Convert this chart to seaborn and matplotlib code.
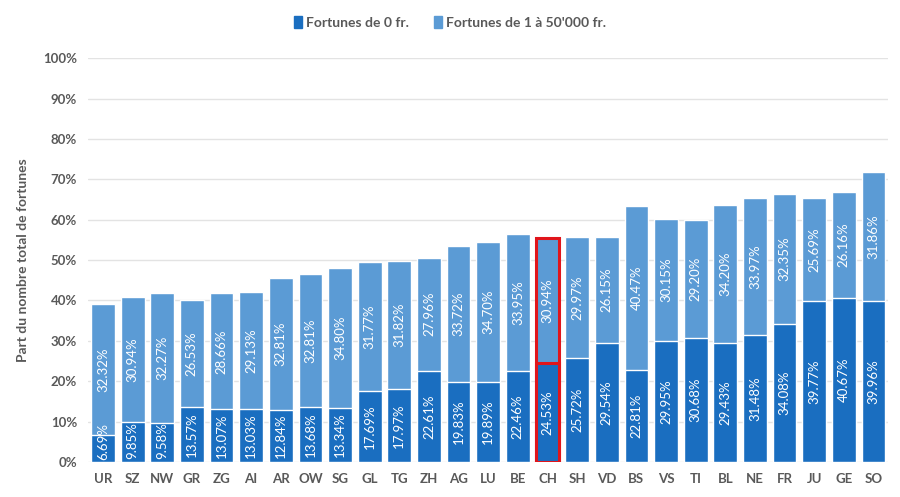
import numpy as np
import pandas as pd
import matplotlib
matplotlib.use("Agg")
import matplotlib.pyplot as plt
import seaborn as sns

cantons = ["UR", "SZ", "NW", "GR", "ZG", "AI", "AR", "OW", "SG", "GL", "TG", "ZH", "AG", "LU", "BE",
           "CH", "SH", "VD", "BS", "VS", "TI", "BL", "NE", "FR", "JU", "GE", "SO"]
fortune_zero = [6.69, 9.85, 9.58, 13.57, 13.07, 13.03, 12.84, 13.68, 13.34, 17.69, 17.97, 22.61, 19.83, 19.89, 22.46,
                24.53, 25.72, 29.54, 22.81, 29.95, 30.68, 29.43, 31.48, 34.08, 39.77, 40.67, 39.96]
fortune_small = [32.32, 30.94, 32.27, 26.53, 28.66, 29.13, 32.81, 32.81, 34.80, 31.77, 31.82, 27.96, 33.72, 34.70, 33.95,
                 30.94, 29.97, 26.15, 40.47, 30.15, 29.20, 34.20, 33.97, 32.35, 25.69, 26.16, 31.86]

dark = "#1a6ec0"
light = "#5b9bd5"
grey = "#595959"

df = pd.DataFrame({"canton": cantons, "zero": fortune_zero, "small": fortune_small})
df["total"] = df["zero"] + df["small"]

sns.set_style("white")
plt.rcParams["font.family"] = ["Lato", "DejaVu Sans"]

fig = plt.figure(figsize=(9, 4.97), dpi=100)
ax = fig.add_axes([0.098, 0.0704, 0.889, 0.8126])

sns.barplot(data=df, x="canton", y="total", color=light, saturation=1, width=0.8, ax=ax, zorder=2)
sns.barplot(data=df, x="canton", y="zero", color=dark, saturation=1, width=0.8, ax=ax, zorder=3)

# highlight CH
ch = cantons.index("CH")
n = len(cantons)
for idx in (ch, n + ch):
    p = ax.patches[idx]
    p.set_edgecolor("#e0151b")
    p.set_linewidth(2.2)
    p.set_zorder(4)

for i, row in df.iterrows():
    # labels that don't fit are pushed up so they stay inside the bar
    y0 = max(row["zero"] / 2, 5.2)
    ax.text(i, y0, f"{row['zero']:.2f}%", rotation=90, ha="center", va="center",
            color="white", fontsize=9.5, zorder=5)
    ax.text(i, row["zero"] + row["small"] / 2, f"{row['small']:.2f}%", rotation=90, ha="center",
            va="center", color="white", fontsize=9.5, zorder=5)

ax.set_xlim(-0.5, n - 0.5)
ax.set_ylim(0, 100)
ax.set_yticks(range(0, 101, 10))
ax.set_yticklabels([f"{v}%" for v in range(0, 101, 10)])
ax.yaxis.grid(True, color="#e3e3e3", linewidth=1, zorder=0)
ax.set_axisbelow(True)
for s in ax.spines.values():
    s.set_visible(False)
ax.tick_params(axis="both", length=0, labelsize=9.5, colors=grey, pad=8)
for lab in ax.get_xticklabels() + ax.get_yticklabels():
    lab.set_fontweight("bold")
ax.set_xlabel("")
ax.set_ylabel("Part du nombre total de fortunes", fontsize=10, color=grey, fontweight="bold", labelpad=10)

handles = [plt.Rectangle((0, 0), 1, 1, color=dark), plt.Rectangle((0, 0), 1, 1, color=light)]
fig.legend(handles, ["Fortunes de 0 fr.", "Fortunes de 1 à 50'000 fr."], loc="center",
           bbox_to_anchor=(0.5, 0.955), ncol=2, frameon=False, handlelength=0.6, handleheight=1.0,
           handletextpad=0.3, columnspacing=1.8, prop={"size": 10, "weight": "bold"}, labelcolor=grey)

fig.savefig("out.png", dpi=100)
